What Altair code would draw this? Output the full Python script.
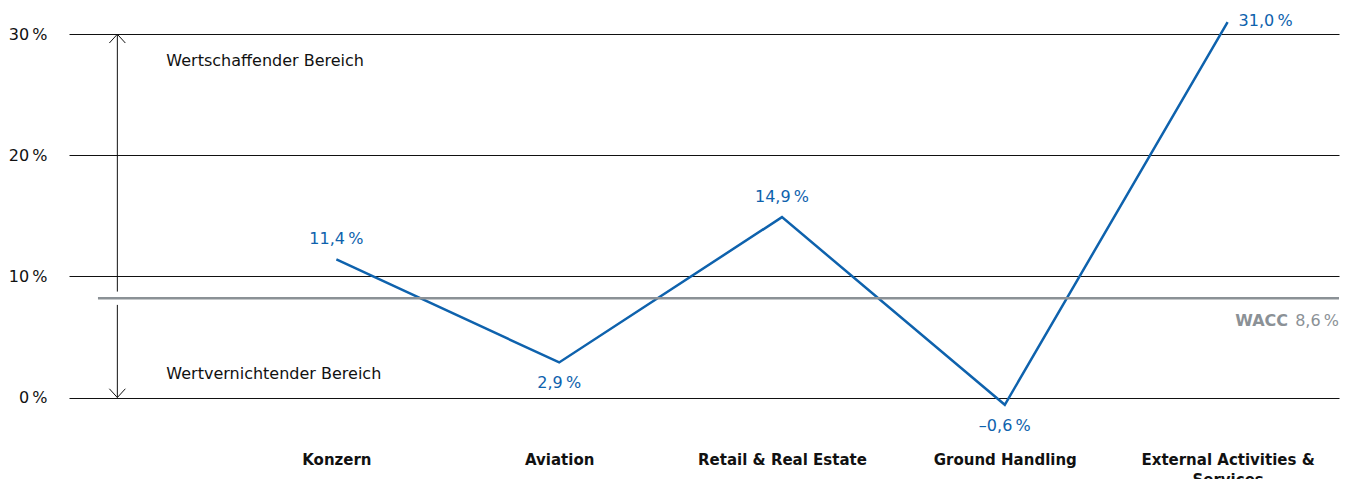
import json
import textwrap
import altair as alt
import pandas as pd

# ---- data ----
categories = ["Konzern", "Aviation", "Retail & Real Estate", "Ground Handling",
              "External Activities & Services"]
roce = [11.4, 2.9, 14.9, -0.6, 31.0]
label_side = ["above", "below", "above", "below", "right"]
y_ticks = [0, 10, 20, 30]
wacc_value = 8.6          # printed value
wacc_line_level = 8.2     # level where the reference draws the WACC line
zone_top_text = "Wertschaffender Bereich"
zone_bottom_text = "Wertvernichtender Bereich"

FONT = "DejaVu Sans"
BLUE = "#0e62ad"
GRAY = "#8b9196"


def de_pct(v):
    s = f"{abs(v):.1f}".replace(".", ",") + "\u2009%"
    return ("\u2013" if v < 0 else "") + s


idx = list(range(1, len(categories) + 1))
df = pd.DataFrame({
    "i": idx,
    "cat": categories,
    "v": roce,
    "lbl": [de_pct(v) for v in roce],
    "side": label_side,
})

wrapped = [textwrap.wrap(c, 22) for c in categories]
x_label_expr = json.dumps(wrapped) + "[datum.value - 1]"

x_scale = alt.Scale(domain=[-0.2, 5.5], nice=False, zero=False)
y_scale = alt.Scale(domain=[-4, 32], nice=False, zero=False)

x_enc = alt.X("i:Q", scale=x_scale, axis=alt.Axis(
    values=idx, labelExpr=x_label_expr, grid=False, domain=False, ticks=False,
    labelFont=FONT, labelFontSize=15, labelFontWeight="bold", labelColor="#111111",
    labelPadding=6, labelLineHeight=20, title=None, labelFlush=False,
    labelOverlap=False))
y_enc = alt.Y("v:Q", scale=y_scale, axis=alt.Axis(
    values=y_ticks, labelExpr="datum.value + '\u2009%'", grid=True,
    gridColor="#111111", gridWidth=1, domain=False, ticks=False,
    labelFont=FONT, labelFontSize=16, labelColor="#111111", labelPadding=22,
    labelAlign="right", labelBaseline="middle", title=None))

base = alt.Chart(df)

line = base.mark_line(color=BLUE, strokeWidth=2.5, strokeJoin="miter").encode(
    x=x_enc, y=y_enc)

txt_style = dict(font=FONT, fontSize=16, color=BLUE, baseline="middle")
lab_above = base.transform_filter("datum.side == 'above'").mark_text(
    dy=-20, **txt_style).encode(x="i:Q", y="v:Q", text="lbl:N")
lab_below = base.transform_filter("datum.side == 'below'").mark_text(
    dy=21, **txt_style).encode(x="i:Q", y="v:Q", text="lbl:N")
lab_right = base.transform_filter("datum.side == 'right'").mark_text(
    dx=11, dy=-1, align="left", **txt_style).encode(x="i:Q", y="v:Q", text="lbl:N")

# WACC line and label
wacc_df = pd.DataFrame({"x": [-0.07], "x2": [5.5], "y": [wacc_line_level],
                        "num": [de_pct(wacc_value)], "name": ["WACC"]})
wacc_rule = alt.Chart(wacc_df).mark_rule(color=GRAY, strokeWidth=2.5).encode(
    x="x:Q", x2="x2:Q", y="y:Q")
wacc_num = alt.Chart(wacc_df).mark_text(
    font=FONT, fontSize=16, color=GRAY, align="right", baseline="middle", dy=23
).encode(x="x2:Q", y="y:Q", text="num:N")
wacc_name = alt.Chart(wacc_df).mark_text(
    font=FONT, fontSize=16, fontWeight="bold", color=GRAY, align="right",
    baseline="middle", dy=23, dx=-51
).encode(x="x2:Q", y="y:Q", text="name:N")

# zone arrows
ax = 0.017
arrow_df = pd.DataFrame({"x": [ax, ax], "y": [30, 0], "y2": [8.75, 7.65]})
arrows = alt.Chart(arrow_df).mark_rule(color="#111111", strokeWidth=1).encode(
    x="x:Q", y="y:Q", y2="y2:Q")
head_up = alt.Chart(pd.DataFrame({"x": [ax], "y": [30]})).mark_point(
    shape="M-1,1.1L0,0L1,1.1", size=256, filled=False, color="#111111",
    strokeWidth=1, opacity=1).encode(x="x:Q", y="y:Q")
head_down = alt.Chart(pd.DataFrame({"x": [ax], "y": [0]})).mark_point(
    shape="M-1,-1.1L0,0L1,-1.1", size=256, filled=False, color="#111111",
    strokeWidth=1, opacity=1).encode(x="x:Q", y="y:Q")

zone_df = pd.DataFrame({"x": [0.237, 0.237], "y": [27.75, 1.94],
                        "t": [zone_top_text, zone_bottom_text]})
zones = alt.Chart(zone_df).mark_text(
    font=FONT, fontSize=16, color="#111111", align="left", baseline="middle"
).encode(x="x:Q", y="y:Q", text="t:N")

chart = alt.layer(
    line, wacc_rule, arrows, head_up, head_down, zones,
    lab_above, lab_below, lab_right, wacc_num, wacc_name
).properties(
    width=1270, height=436,
    background="white",
    autosize=alt.AutoSizeParams(type="none"),
    padding={"left": 61, "top": 2, "right": 4, "bottom": 33},
).configure_view(stroke=None, strokeWidth=0)

chart.save("out.html", embed_options={"renderer": "svg", "actions": False})
